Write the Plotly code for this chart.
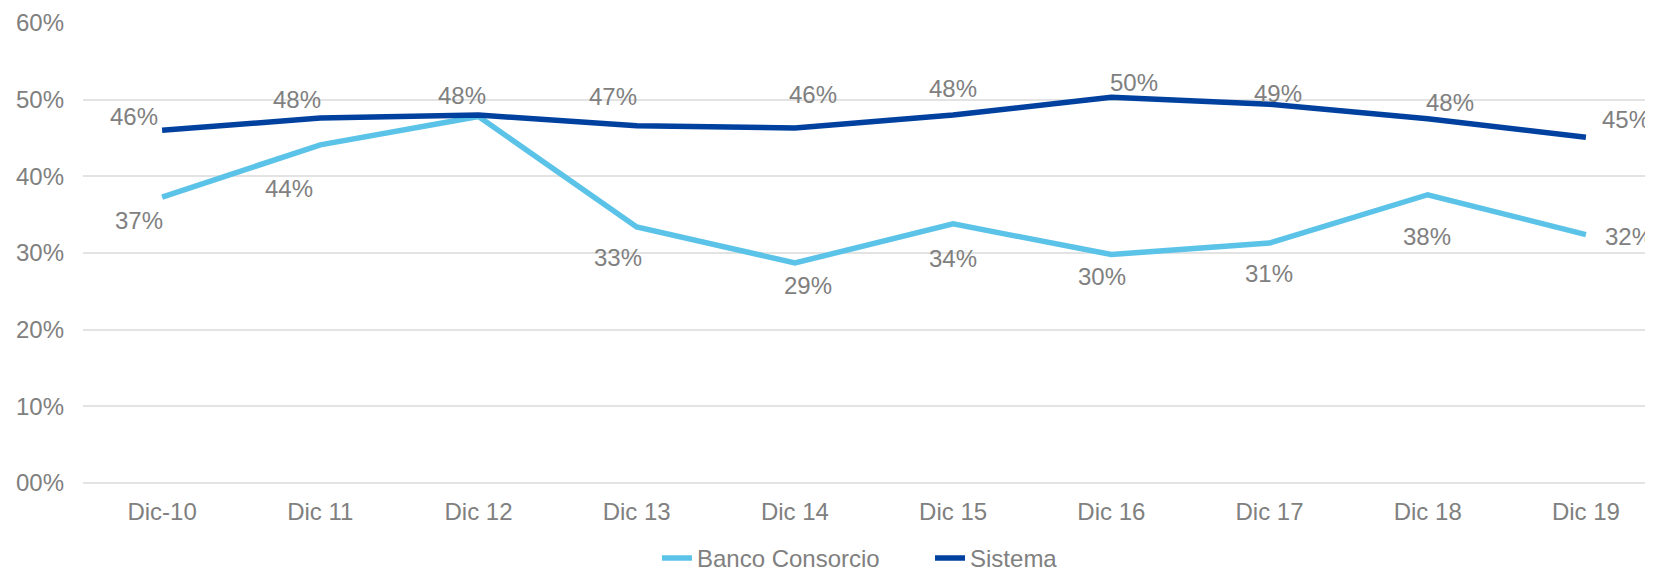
import plotly.graph_objects as go

categories = ["Dic-10", "Dic 11", "Dic 12", "Dic 13", "Dic 14", "Dic 15", "Dic 16", "Dic 17", "Dic 18", "Dic 19"]
banco_consorcio = [0.373, 0.441, 0.478, 0.334, 0.287, 0.338, 0.298, 0.313, 0.376, 0.324]
sistema = [0.460, 0.476, 0.480, 0.466, 0.463, 0.480, 0.503, 0.494, 0.475, 0.451]
y_tick_vals = [0, 0.1, 0.2, 0.3, 0.4, 0.5, 0.6]
y_tick_text = ["00%", "10%", "20%", "30%", "40%", "50%", "60%"]

# label offsets (pixels) for data labels, as placed in the original
sis_dx = [-28, -23, -17, -24, 18, 0, 23, 8, 22, 40]
sis_dy = [14, 19, 20, 29, 34, 27, 15, 11, 16, 18]
ban_dx = [-23, -31, None, -19, 13, 0, -9, -1, -1, 43]
ban_dy = [-23, -44, None, -31, -23, -35, -22, -30, -42, -2]

LIGHT = "#5BC3E8"
DARK = "#0041A0"
GREY = "#808080"
FONT = "Liberation Sans, Arial, sans-serif"
FS = 24

fig = go.Figure()
fig.add_trace(go.Scatter(x=categories, y=banco_consorcio, mode="lines", name="Banco Consorcio",
                         line=dict(color=LIGHT, width=5.5), cliponaxis=False, legend="legend"))
fig.add_trace(go.Scatter(x=categories, y=sistema, mode="lines", name="Sistema",
                         line=dict(color=DARK, width=5.5), cliponaxis=False, legend="legend2"))

annotations = []
for i, c in enumerate(categories):
    annotations.append(dict(x=c, y=sistema[i], text=f"{round(sistema[i]*100):.0f}%", showarrow=False,
                            xshift=sis_dx[i], yshift=sis_dy[i], font=dict(family=FONT, size=FS, color=GREY)))
    if ban_dx[i] is not None:
        annotations.append(dict(x=c, y=banco_consorcio[i], text=f"{round(banco_consorcio[i]*100):.0f}%", showarrow=False,
                                xshift=ban_dx[i], yshift=ban_dy[i], font=dict(family=FONT, size=FS, color=GREY)))

legend_common = dict(orientation="h", xref="container", yref="container", y=0.026,
                     xanchor="left", yanchor="middle", font=dict(family=FONT, size=FS, color=GREY),
                     bgcolor="rgba(0,0,0,0)", borderwidth=0)

fig.update_layout(
    width=1645, height=565,
    margin=dict(l=75, r=0, t=15, b=90),
    paper_bgcolor="white", plot_bgcolor="white",
    font=dict(family=FONT, size=FS, color=GREY),
    annotations=annotations,
    showlegend=True,
    legend=dict(x=0.3945, **legend_common),
    legend2=dict(x=0.5605, **legend_common),
    xaxis=dict(range=[-0.5, 9.424], showgrid=False, showline=False, zeroline=False,
               ticks="", tickfont=dict(family=FONT, size=FS, color=GREY), ticklabelstandoff=12,
               fixedrange=True),
    yaxis=dict(range=[0, 0.6], tickvals=y_tick_vals, ticktext=y_tick_text, showgrid=True,
               gridcolor="#E3E3E3", gridwidth=2, zeroline=True, zerolinecolor="#E3E3E3", zerolinewidth=2,
               showline=False, ticks="", tickfont=dict(family=FONT, size=FS, color=GREY),
               ticklabelstandoff=18, fixedrange=True),
)

fig.write_html("out.html")
